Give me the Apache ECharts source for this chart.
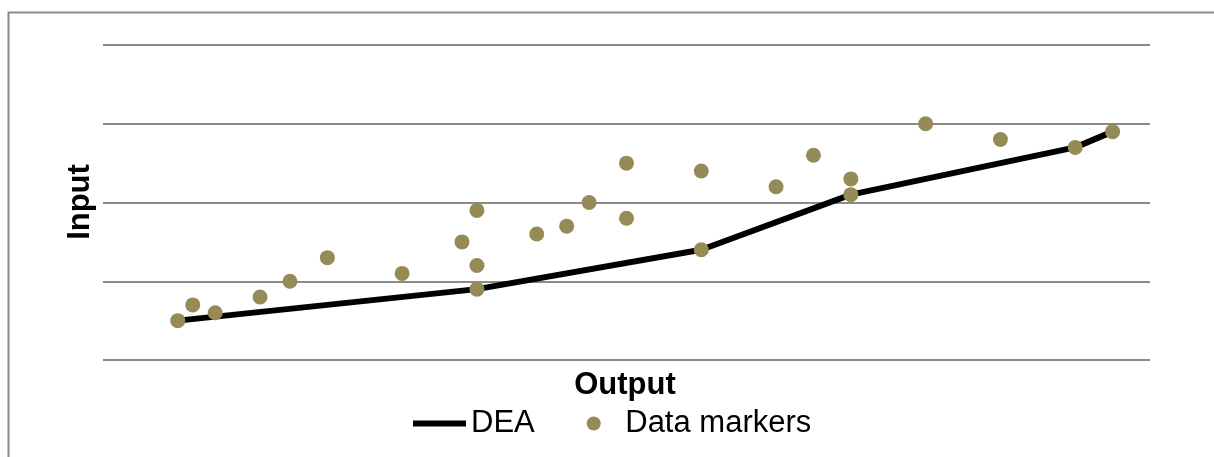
<!DOCTYPE html>
<html>
<head>
<meta charset="utf-8">
<script src="https://cdn.jsdelivr.net/npm/echarts@6/dist/echarts.min.js"></script>
<style>
html,body{margin:0;padding:0;background:#fff;overflow:hidden;}
#chart{width:1214px;height:457px;}
</style>
</head>
<body>
<div id="chart"></div>
<script>
// Data
const deaX = [2, 10, 16, 20, 26, 27];
const deaY = [0.5, 0.9, 1.4, 2.1, 2.7, 2.9];
const markerX = [2, 2.4, 3, 4.2, 5, 6, 8, 9.6, 10, 10, 10, 11.6, 12.4, 13, 14, 14, 16, 16, 18, 19, 20, 20, 22, 24, 26, 27];
const markerY = [0.5, 0.7, 0.6, 0.8, 1.0, 1.3, 1.1, 1.5, 1.9, 1.2, 0.9, 1.6, 1.7, 2.0, 2.5, 1.8, 2.4, 1.4, 2.2, 2.6, 2.3, 2.1, 3.0, 2.8, 2.7, 2.9];
const seriesNames = ['DEA', 'Data markers'];
const xTitle = 'Output';
const yTitle = 'Input';

const chart = echarts.init(document.getElementById('chart'));
const font = '"Liberation Sans", Arial, sans-serif';
chart.setOption({
  animation: false,
  backgroundColor: '#ffffff',
  grid: {left: 103, right: 64, top: 45, bottom: 97, containLabel: false},
  xAxis: {
    type: 'value', min: 0, max: 28,
    axisLine: {show: false}, axisTick: {show: false}, axisLabel: {show: false},
    splitLine: {show: false}
  },
  yAxis: {
    type: 'value', min: 0, max: 4, interval: 1,
    axisLine: {show: false}, axisTick: {show: false}, axisLabel: {show: false},
    splitLine: {show: true, lineStyle: {color: '#8a8a8a', width: 2}}
  },
  legend: {
    left: 408, top: 403,
    itemWidth: 53, itemHeight: 14, itemGap: 52,
    symbolKeepAspect: true,
    textStyle: {fontFamily: font, fontSize: 31, color: '#000'},
    data: [
      {name: seriesNames[0], icon: 'path://M0,0L53,0L53,6L0,6Z', itemStyle: {color: '#000'}},
      {name: seriesNames[1], icon: 'circle', itemStyle: {color: '#968b56'}}
    ]
  },
  graphic: [
    {type: 'rect', left: 6, top: 10, shape: {width: 1300, height: 500}, style: {fill: 'none', stroke: '#8a8a8a', lineWidth: 2}, silent: true, z: -1},
    {type: 'text', x: 625, y: 385, style: {text: xTitle, font: 'bold 31px ' + font, fill: '#000', align: 'center', verticalAlign: 'middle'}},
    {type: 'text', x: 80, y: 202, rotation: Math.PI / 2, style: {text: yTitle, font: 'bold 31px ' + font, fill: '#000', align: 'center', verticalAlign: 'middle'}}
  ],
  series: [
    {
      name: seriesNames[0], type: 'line', symbol: 'none',
      data: deaX.map((x, i) => [x, deaY[i]]),
      lineStyle: {color: '#000', width: 6},
      itemStyle: {color: '#000'},
      z: 2
    },
    {
      name: seriesNames[1], type: 'scatter', symbol: 'circle', symbolSize: 15,
      data: markerX.map((x, i) => [x, markerY[i]]),
      itemStyle: {color: '#968b56', opacity: 1},
      z: 3
    }
  ]
});
</script>
</body>
</html>
